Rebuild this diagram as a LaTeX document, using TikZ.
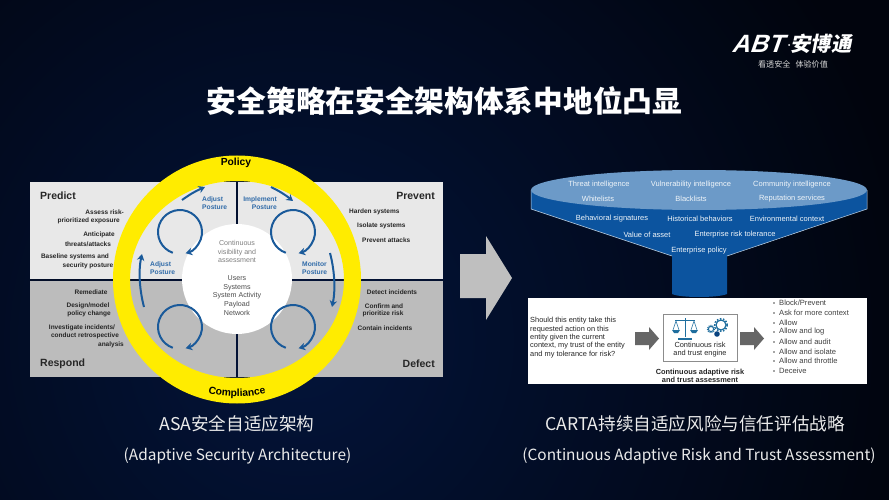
\documentclass[tikz,border=0pt]{standalone}
\usepackage{fontspec}
\setmainfont{Liberation Sans}
\newfontfamily\cjk{Noto Sans CJK SC}
\usetikzlibrary{arrows.meta,decorations.text}
\definecolor{panelL}{HTML}{E8E8E8}
\definecolor{panelD}{HTML}{BCBCBC}
\definecolor{ringY}{HTML}{FFEC00}
\definecolor{flow}{HTML}{1A5A9A}
\definecolor{lab}{HTML}{2F6AA8}
\definecolor{funD}{HTML}{0C549F}
\definecolor{funL}{HTML}{6C9AC8}
\definecolor{icon}{HTML}{1F6E9E}
\definecolor{darkbg}{HTML}{01040D}
\definecolor{midbg}{HTML}{03143A}
\tikzset{
  x=1pt,y=-1pt,
  headtxt/.style={font=\bfseries\fontsize{10.5}{12}\selectfont,text=black!85,inner sep=0pt},
  item/.style={font=\bfseries\fontsize{6.5}{7}\selectfont,text=black!85,inner sep=0pt},
  posture/.style={font=\bfseries\fontsize{6.7}{8.1}\selectfont,text=lab,inner sep=0pt},
  core/.style={font=\fontsize{7.1}{8.6}\selectfont,align=center,inner sep=0pt},
  ringtxt/.style={font=\bfseries\fontsize{10.3}{12}\selectfont,text=black,inner sep=0pt},
  fun/.style={font=\fontsize{7.5}{8}\selectfont,text=white!90!funL,inner sep=0pt},
  boxt/.style={font=\fontsize{7.4}{8.4}\selectfont,text=black!85,inner sep=0pt},
  bull/.style={font=\fontsize{7.6}{9}\selectfont,text=black!75,inner sep=0pt,anchor=west},
  captxt/.style={font=\cjk\fontsize{17.6}{20}\selectfont,text=white!92!black,inner sep=0pt},
  subtxt/.style={font=\cjk\fontsize{15.4}{18}\selectfont,text=white!92!black,inner sep=0pt},
  loopa/.style={flow,line width=2pt,-{Stealth[length=6.5pt,width=7.5pt]}},
}
\begin{document}
\begin{tikzpicture}
\useasboundingbox (0,0) rectangle (889,500);
% background
\begin{scope}
\clip (0,0) rectangle (889,500);
\fill[darkbg] (0,0) rectangle (889,500);
\shade[inner color=midbg,outer color=darkbg] (300,340) circle (620);
\end{scope}
% panels
\fill[panelL] (30,182) rectangle (236,278.5);
\fill[panelL] (238,182) rectangle (443,278.5);
\fill[panelD] (30,280.5) rectangle (236,377);
\fill[panelD] (238,280.5) rectangle (443,377);
% ring
\fill[ringY,even odd rule] (237,279.5) ellipse [x radius=124,y radius=124] (237,279.5) ellipse [x radius=107,y radius=98.5];
\fill[white] (237,279) circle (55);
% loops
\draw[loopa] (180,232) ++(109:22) arc (109:435:22);
\draw[loopa] (293,232) ++(109:22) arc (109:435:22);
\draw[loopa] (180,327) ++(109:22) arc (109:435:22);
\draw[loopa] (293,327) ++(109:22) arc (109:435:22);
% ring arrows
\coordinate (a1s) at (182,200); \coordinate (a1e) at (205,187);
\coordinate (a2s) at (271,187); \coordinate (a2e) at (293,201);
\coordinate (a3s) at (330,253); \coordinate (a3e) at (332,307);
\coordinate (a4s) at (144,307); \coordinate (a4e) at (142,254);
\draw[loopa] (a1s) to[bend left=6] (a1e);
\draw[loopa] (a2s) to[bend left=6] (a2e);
\draw[loopa] (a3s) .. controls (334,268) and (336,288) .. (a3e);
\draw[loopa] (a4s) .. controls (140,292) and (138,272) .. (a4e);
% panel headings
\node[headtxt,anchor=west] (predict) at (40,196) {Predict};
\node[headtxt,anchor=east] (prevent) at (435,196) {Prevent};
\node[headtxt,anchor=west] (respond) at (40,364) {Respond};
\node[headtxt,anchor=east] (defect) at (435,364) {Defect};
% predict
\node[item,anchor=east] (p1) at (124,212) {Assess risk-};
\node[item,anchor=east] (p2) at (120,221) {prioritized exposure};
\node[item] (p3) at (99,235) {Anticipate};
\node[item] (p4) at (88,244) {threats/attacks};
\node[item] (p5) at (75,257) {Baseline systems and};
\node[item] (p6) at (88,266) {security posture};
% prevent
\node[item,anchor=west] (v1) at (349,212) {Harden systems};
\node[item,anchor=west] (v2) at (357,226) {Isolate systems};
\node[item,anchor=west] (v3) at (362,240) {Prevent attacks};
% respond
\node[item] (r1) at (91,292) {Remediate};
\node[item] (r2) at (88,306) {Design/model};
\node[item] (r3) at (89,314) {policy change};
\node[item] (r4) at (82,328) {Investigate incidents/};
\node[item] (r5) at (85,336) {conduct retrospective};
\node[item,anchor=east] (r6) at (124,345) {analysis};
% detect
\node[item] (d1) at (392,292) {Detect incidents};
\node[item] (d2) at (384,306) {Confirm and};
\node[item] (d3) at (383,314) {prioritize risk};
\node[item] (d4) at (385,328) {Contain incidents};
% posture labels
\node[posture,align=left,anchor=west] (ap1) at (202,203) {Adjust\\Posture};
\node[posture,align=left,anchor=west] (ap2) at (150,268) {Adjust\\Posture};
\node[posture,align=right,anchor=east] (ip) at (277,203) {Implement\\Posture};
\node[posture,align=left,anchor=west] (mp) at (302,268) {Monitor\\Posture};
% core
\node[core,text=black!50] (c1) at (237,251.5) {Continuous\\visibility and\\assessment};
\node[core,text=black!70] (c2) at (237,295.5) {Users\\Systems\\System Activity\\Payload\\Network};
% ring labels
\node[ringtxt] (policy) at (236,163) {Policy};
\path[decorate,decoration={text along path,text align=center,text={|\bfseries\fontsize{10.3}{12}\selectfont|Compliance}}]
  (198,390) .. controls (222,399) and (252,399) .. (276,390);
% big arrow
\fill[panelD!95!white] (460,254) -- (486,254) -- (486,236) -- (512,278) -- (486,320) -- (486,298) -- (460,298) -- cycle;
% funnel
\fill[funD] (531,190) -- (531,209) -- (672,256) -- (672,294)
  .. controls (680,298) and (718,298) .. (727,294) -- (727,256) -- (867,209) -- (867,190) -- cycle;
\draw[white!60!funL,line width=.5pt] (531,190) -- (531,209) -- (672,256) (727,256) -- (867,209) -- (867,190);
\fill[funL] (699,190) ellipse [x radius=168,y radius=20];
\node[fun] (f1) at (599,185) {Threat intelligence};
\node[fun] (f2) at (691,185) {Vulnerability intelligence};
\node[fun] (f3) at (792,185) {Community intelligence};
\node[fun] (f4) at (598,199) {Whitelists};
\node[fun] (f5) at (691,199) {Blacklists};
\node[fun] (f6) at (792,199) {Reputation services};
\node[fun] (f7) at (612,219) {Behavioral signatures};
\node[fun] (f8) at (700,219) {Historical behaviors};
\node[fun] (f9) at (787,219) {Environmental context};
\node[fun] (f10) at (647,235) {Value of asset};
\node[fun] (f11) at (735,235) {Enterprise risk tolerance};
\node[fun] (f12) at (699,251) {Enterprise policy};
% white box
\fill[white] (528,298) rectangle (867,384);
\node[boxt,align=left,anchor=west] (q) at (530,337.5) {Should this entity take this\\requested action on this\\entity given the current\\context, my trust of the entity\\and my tolerance for risk?};
\fill[black!60] (635,332) -- (649,332) -- (649,327) -- (659,338.5) -- (649,350) -- (649,345) -- (635,345) -- cycle;
\fill[black!60] (740,332) -- (754,332) -- (754,327) -- (764,338.5) -- (754,350) -- (754,345) -- (740,345) -- cycle;
\node[draw=black!45,line width=.8pt,minimum width=74pt,minimum height=47pt,inner sep=0pt] (engine) at (700,337.5) {};
\node[boxt,align=center] (et) at (700,349.5) {Continuous risk\\and trust engine};
\node[boxt,font=\bfseries\fontsize{7.4}{8.4}\selectfont,align=center] (ct) at (700,376) {Continuous adaptive risk\\and trust assessment};
% scales
\draw[icon,line width=1pt] (685,318) -- (685,337) (675,320) -- (695,320);
\draw[icon,line width=1.4pt] (678,339) -- (692,339);
\draw[icon,line width=.5pt] (676,321) -- (673,330) (676,321) -- (679,330) (694,321) -- (691,330) (694,321) -- (697,330);
\fill[icon] (672,330) -- (680,330) -- (678,333) -- (674,333) -- cycle;
\fill[icon] (690,330) -- (698,330) -- (696,333) -- (692,333) -- cycle;
% gears
\draw[icon,line width=1.2pt] (721,325) circle (5);
\draw[icon,line width=1.6pt,dash pattern=on 1.5pt off 1.6pt] (721,325) circle (6.2);
\draw[icon,line width=1pt] (711,329) circle (2.6);
\draw[icon,line width=1.2pt,dash pattern=on 1pt off 1pt] (711,329) circle (3.6);
\fill[funD!80!black] (717,334) circle (2.8);
% bullets
\foreach \n/\yy/\lbl in {1/303/Block\slash Prevent,2/313/Ask for more context,3/323/Allow,4/332/Allow and log,5/342/Allow and audit,6/352/Allow and isolate,7/361/Allow and throttle,8/371/Deceive}{
  \fill[black!70] (774,\yy) circle (0.9);
  \node[bull] (b\n) at (779,\yy) {\lbl};
}
% title and captions
\node[font=\cjk\bfseries\fontsize{29.7}{32}\selectfont,text=white,inner sep=0pt] (title) at (444.5,101) {安全策略在安全架构体系中地位凸显};
\node[captxt] (cap1) at (237,424) {ASA安全自适应架构};
\node[subtxt] (sub1) at (237.5,456) {(Adaptive Security Architecture)};
\node[captxt] (cap2) at (695,424) {CARTA持续自适应风险与信任评估战略};
\node[subtxt] (sub2) at (699,456) {(Continuous Adaptive Risk and Trust Assessment)};
% logo
\node[font=\bfseries\fontsize{25}{26}\selectfont,text=white,inner sep=0pt,xslant=.35,anchor=east] (abt) at (786,44) {ABT};
\node[font=\cjk\bfseries\fontsize{20.3}{22}\selectfont,text=white,inner sep=0pt,xslant=.2,anchor=west] (abn) at (792,44) {安博通};
\fill[white] (789,45) circle (1);
\node[font=\cjk\fontsize{8.1}{9}\selectfont,text=white!85!black,inner sep=0pt] (slogan) at (793,64) {看透安全\hspace{5pt}体验价值};
\end{tikzpicture}
\end{document}
